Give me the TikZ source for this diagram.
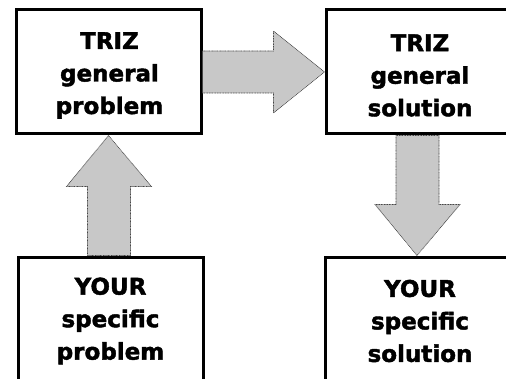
\documentclass[tikz,border=0pt]{standalone}
\usepackage{fontspec}
\newfontfamily\boxfont{DejaVu Sans Bold}[FakeBold=1.8]
\usetikzlibrary{calc}
\definecolor{arrowgray}{RGB}{200,200,200}
\definecolor{edgegray}{RGB}{70,70,70}
\tikzset{
  box/.style={draw=black, line width=3pt, rectangle, inner sep=0pt},
  boxtext/.style={align=center, inner sep=0pt,
    font=\boxfont\fontsize{23}{32.5}\selectfont},
  bigarrow/.style={fill=arrowgray, draw=edgegray, line width=0.6pt,
    dash pattern=on 1pt off 0.6pt, line join=miter}
}
\begin{document}
\begin{tikzpicture}[x=1pt,y=1pt]
\useasboundingbox (0,0) rectangle (506,378);
\clip (0,0) rectangle (506,378);
\fill[white] (0,0) rectangle (506,378);
% boxes
\node[box, minimum width=185pt, minimum height=124pt] (tl) at (108.5,306) {};
\node[box, minimum width=188pt, minimum height=124pt] (tr) at (420,306) {};
\node[box, minimum width=185pt, minimum height=126pt] (bl) at (110.5,58) {};
\node[box, minimum width=190pt, minimum height=126pt] (br) at (420,58) {};
% texts
\node[boxtext] (tltext) at ($(tl.center)+(1,-3.5)$) {TRIZ\\general\\problem};
\node[boxtext] (trtext) at ($(tr.center)+(0,-3.5)$) {TRIZ\\general\\solution};
\node[boxtext] (bltext) at ($(bl.center)+(0,-1)$) {YOUR\\specific\\problem};
\node[boxtext] (brtext) at ($(br.center)+(0,-1)$) {YOUR\\specific\\solution};
% right arrow: general problem -> general solution
\draw[bigarrow] ($(tl.east)+(0,21)$) -- ($(tr.west)+(-51,21)$) -- ($(tr.west)+(-51,41)$)
  -- (tr.west) -- ($(tr.west)+(-51,-41)$) -- ($(tr.west)+(-51,-21)$)
  -- ($(tl.east)+(0,-21)$) -- cycle;
% up arrow: specific problem -> general problem
\coordinate (uptip) at (tl.south);
\coordinate (upbase) at (tl.south |- bl.north);
\draw[bigarrow] ($(upbase)+(-21,0)$) -- ($(uptip)+(-21,-51)$) -- ($(uptip)+(-42,-51)$)
  -- (uptip) -- ($(uptip)+(43,-51)$) -- ($(uptip)+(22,-51)$)
  -- ($(upbase)+(22,0)$) -- cycle;
% down arrow: general solution -> specific solution
\coordinate (dntip) at ($(br.north)+(-3,0)$);
\coordinate (dnbase) at (dntip |- tr.south);
\draw[bigarrow] ($(dnbase)+(-21,0)$) -- ($(dntip)+(-21,51)$) -- ($(dntip)+(-42,51)$)
  -- (dntip) -- ($(dntip)+(43,51)$) -- ($(dntip)+(22,51)$)
  -- ($(dnbase)+(22,0)$) -- cycle;
\end{tikzpicture}
\end{document}
